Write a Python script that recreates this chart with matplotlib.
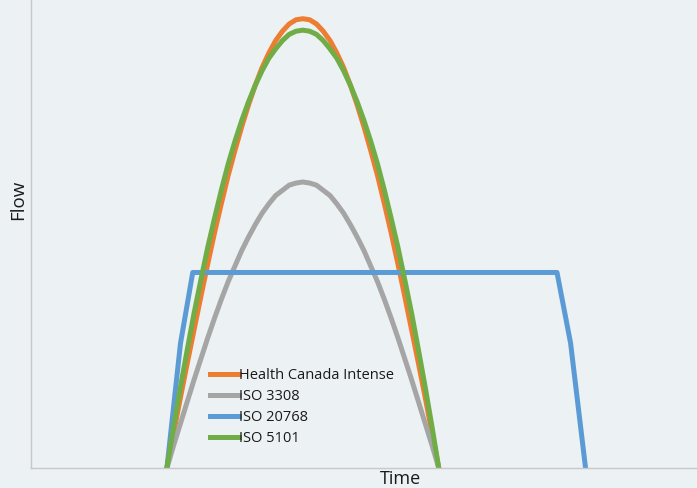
import matplotlib
matplotlib.use("Agg")
from matplotlib import pyplot as plt

# puff time (s) for the sine-shaped profiles, 0.05 s steps
t_sine = [1.00, 1.05, 1.10, 1.15, 1.20, 1.25, 1.30, 1.35, 1.40, 1.45,
          1.50, 1.55, 1.60, 1.65, 1.70, 1.75, 1.80, 1.85, 1.90, 1.95,
          2.00, 2.05, 2.10, 2.15, 2.20, 2.25, 2.30, 2.35, 2.40, 2.45,
          2.50, 2.55, 2.60, 2.65, 2.70, 2.75, 2.80, 2.85, 2.90, 2.95, 3.00]
hc_intense = [0, 3.4, 6.8, 10.1, 13.3, 16.5, 19.6, 22.6, 25.4, 28.1,
              30.5, 32.8, 34.9, 36.8, 38.5, 39.9, 41.1, 42.0, 42.7, 43.1,
              43.2, 43.1, 42.7, 42.0, 41.1, 39.9, 38.5, 36.8, 34.9, 32.8,
              30.5, 28.1, 25.4, 22.6, 19.6, 16.5, 13.3, 10.1, 6.8, 3.4, 0]
iso_3308 = [0, 2.2, 4.3, 6.4, 8.5, 10.5, 12.5, 14.4, 16.2, 17.9,
            19.4, 20.9, 22.2, 23.4, 24.5, 25.4, 26.2, 26.7, 27.2, 27.4,
            27.5, 27.4, 27.2, 26.7, 26.2, 25.4, 24.5, 23.4, 22.2, 20.9,
            19.4, 17.9, 16.2, 14.4, 12.5, 10.5, 8.5, 6.4, 4.3, 2.2, 0]
iso_5101 = [0, 4.0, 7.8, 11.4, 14.9, 18.1, 21.2, 24.0, 26.7, 29.2,
            31.4, 33.4, 35.2, 36.8, 38.2, 39.4, 40.3, 41.1, 41.7, 42.0,
            42.1, 42.0, 41.7, 41.1, 40.3, 39.4, 38.2, 36.8, 35.2, 33.4,
            31.4, 29.2, 26.7, 24.0, 21.2, 18.1, 14.9, 11.4, 7.8, 4.0, 0]

# square-ish profile
t_square = [1.00, 1.10, 1.19, 3.87, 3.97, 4.08]
iso_20768 = [0, 12.0, 18.8, 18.8, 12.0, 0]

bg = '#ECF1F4'
colors = {'orange': '#ED7D31', 'gray': '#A5A5A5', 'blue': '#5B9BD5', 'green': '#70AD47'}

plt.rcParams['font.family'] = ['Open Sans', 'DejaVu Sans']

fig = plt.figure(figsize=(6.97, 4.88), dpi=100, facecolor=bg)
ax = fig.add_axes([31 / 697, 20 / 488, 1 - 31 / 697, 1 - 20 / 488])
ax.set_facecolor(bg)

ax.plot(t_sine, hc_intense, color=colors['orange'], lw=3.6, label='Health Canada Intense')
ax.plot(t_sine, iso_3308, color=colors['gray'], lw=3.6, label='ISO 3308')
ax.plot(t_square, iso_20768, color=colors['blue'], lw=3.6, label='ISO 20768')
ax.plot(t_sine, iso_5101, color=colors['green'], lw=3.6, label='ISO 5101')

ax.set_xlim(0, 4.9)
ax.set_ylim(0, 45)
ax.set_xticks([])
ax.set_yticks([])
for side in ['top', 'right']:
    ax.spines[side].set_visible(False)
for side in ['left', 'bottom']:
    ax.spines[side].set_color('#C8C8C8')
    ax.spines[side].set_linewidth(1)

leg = ax.legend(loc='upper left', bbox_to_anchor=(0.26, 0.226), frameon=False,
                handlelength=2.0, handletextpad=0.0, labelspacing=0.42,
                borderaxespad=0, fontsize=10.5)
for text in leg.get_texts():
    text.set_color('#1A1A1A')

fig.text(400 / 697, 1 - 479 / 488, 'Time', ha='center', va='center', fontsize=13, color='#1A1A1A')
fig.text(18 / 697, 1 - 200 / 488, 'Flow', ha='center', va='center', rotation=90,
         fontsize=13.5, color='#1A1A1A')

fig.savefig('out.png', dpi=100, facecolor=bg)
